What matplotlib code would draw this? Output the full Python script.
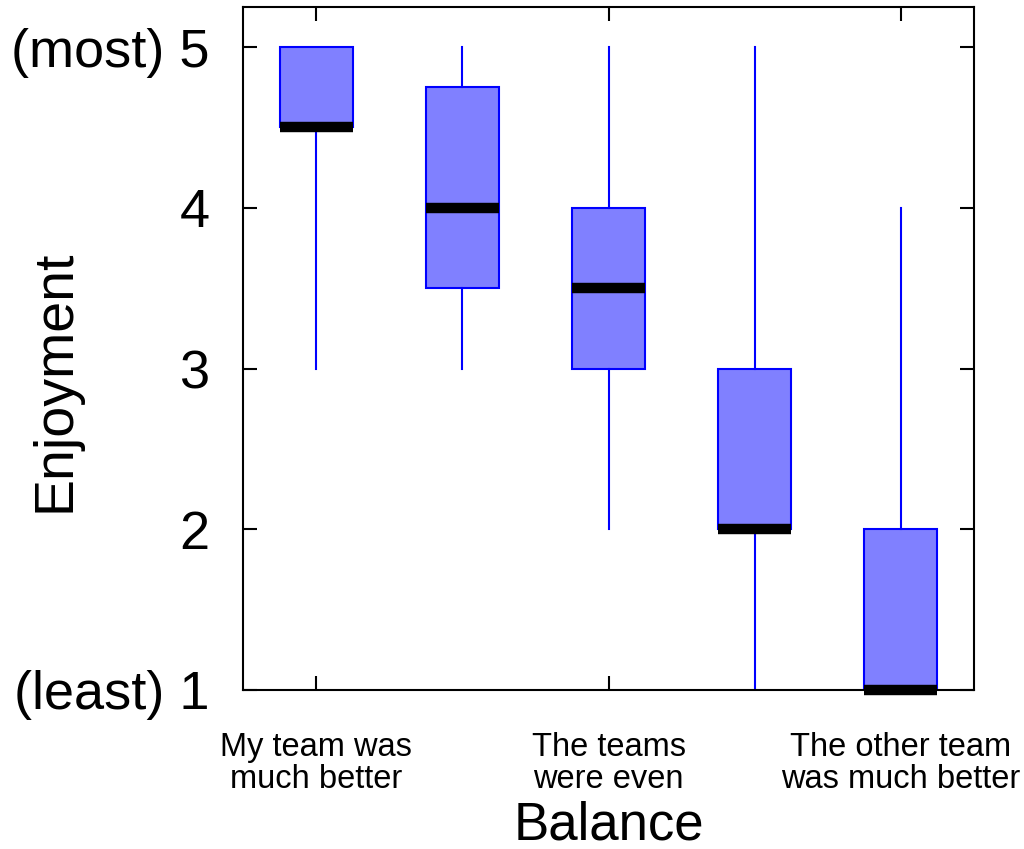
import matplotlib
matplotlib.use("Agg")
import matplotlib.pyplot as plt

plt.rcParams['font.family'] = ['Liberation Sans', 'DejaVu Sans']

# estatisticas de cada caixa
categorias = ["My team was\nmuch better", "", "The teams\nwere even", "", "The other team\nwas much better"]
minimos = [3, 3, 2, 1, 1]
q1 = [4.5, 3.5, 3, 2, 1]
medianas = [4.5, 4, 3.5, 2, 1]
q3 = [5, 4.75, 4, 3, 2]
maximos = [5, 5, 5, 5, 4]

y_ticks = [1, 2, 3, 4, 5]
y_labels = ["(least) 1", "2", "3", "4", "(most) 5"]

stats = []
for i in range(len(medianas)):
    stats.append({"whislo": minimos[i], "q1": q1[i], "med": medianas[i],
                  "q3": q3[i], "whishi": maximos[i], "fliers": []})

fig = plt.figure(figsize=(10.24, 8.49), dpi=100)
ax = fig.add_axes([0.2373, 0.1873, 0.7139, 0.8045])

posicoes = list(range(1, len(stats) + 1))
art = ax.bxp(stats, positions=posicoes, widths=0.5, patch_artist=True,
             showcaps=False, showfliers=False,
             boxprops=dict(facecolor='#8080ff', edgecolor='#0000ff', linewidth=1.5),
             whiskerprops=dict(color='#0000ff', linewidth=1.5),
             medianprops=dict(color='black', linewidth=7.5, solid_capstyle='butt'))
for m in art['medians']:
    m.set_clip_on(False)

ax.set_xlim(0.5, 5.5)
ax.set_ylim(1, 5.25)

ax.set_xticks([1, 3, 5])
ax.set_xticklabels([categorias[0], categorias[2], categorias[4]], fontsize=23.5, linespacing=1.05)
ax.set_yticks(y_ticks)
ax.set_yticklabels(y_labels, fontsize=39)

ax.tick_params(axis='both', direction='in', top=True, right=True, length=10, width=1.5)
ax.tick_params(axis='y', pad=24)
ax.tick_params(axis='x', pad=30)
for s in ax.spines.values():
    s.set_linewidth(1.5)

# rotulos dos eixos
fig.text(55 / 1024, 1 - 381 / 849, "Enjoyment", fontsize=40, rotation=90, ha='center', va='center')
fig.text(609 / 1024, 1 - 840 / 849, "Balance", fontsize=38, ha='center', va='baseline')

plt.savefig("out.png", dpi=100)
